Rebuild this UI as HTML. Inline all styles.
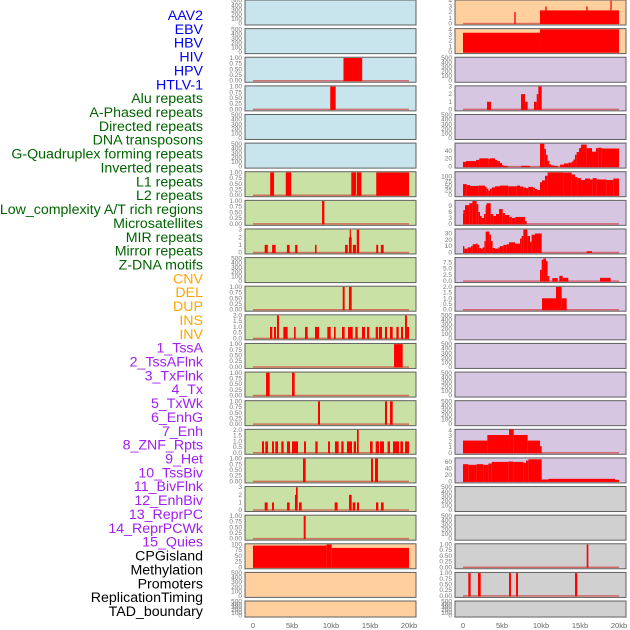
<!DOCTYPE html>
<html><head><meta charset="utf-8"><style>
html,body{margin:0;padding:0;background:#fff;width:630px;height:630px;overflow:hidden}
svg{display:block;font-family:"Liberation Sans",sans-serif}
</style></head><body>
<svg id="chart" width="630" height="630" viewBox="0 0 630 630" xmlns="http://www.w3.org/2000/svg"></svg>
<script>
// ---------- data (kb positions and values) ----------
const labels = ["AAV2","EBV","HBV","HIV","HPV","HTLV-1","Alu repeats","A-Phased repeats","Directed repeats","DNA transposons","G-Quadruplex forming repeats","Inverted repeats","L1 repeats","L2 repeats","Low_complexity A/T rich regions","Microsatellites","MIR repeats","Mirror repeats","Z-DNA motifs","CNV","DEL","DUP","INS","INV","1_TssA","2_TssAFlnk","3_TxFlnk","4_Tx","5_TxWk","6_EnhG","7_Enh","8_ZNF_Rpts","9_Het","10_TssBiv","11_BivFlnk","12_EnhBiv","13_ReprPC","14_ReprPCWk","15_Quies","CPGisland","Methylation","Promoters","ReplicationTiming","TAD_boundary"];
const xTickLabels = ["0","5kb","10kb","15kb","20kb"];
const xTickValues = [0,5,10,15,20];
const emptyTicks = ["0","100","200","300","400","500"];
const unitTicks = ["0.00","0.25","0.50","0.75","1.00"];

// sparse bars: start, end, value
const hbvStart=[11.6], hbvEnd=[14.0], hbvVal=[1];
const hivStart=[9.9], hivEnd=[10.6], hivVal=[1];
const aluStart=[2.2,4.2,12.6,13.3,15.8], aluEnd=[2.7,4.9,13.2,13.9,20.0], aluVal=[1,1,1,1,1];
const aphStart=[8.85], aphEnd=[9.15], aphVal=[1];
const dirStart=[1.5,2.45,4.35,5.4,7.95,11.8,12.3,12.4,12.8,13.3,15.8,16.4], dirEnd=[1.9,2.9,4.7,5.7,8.15,12.15,12.65,12.5,13.2,13.6,16.05,16.75], dirVal=[1,1,1,1,1,1,2,3,1,3,1,1];
const gqStart=[11.5,12.3], gqEnd=[11.75,12.65], gqVal=[1,1];
const invStart=[2.18,2.69,3.08,3.89,5.26,6.67,7.95,9.53,10.38,11.41,12.18,13.12,13.97,14.62,15.73,16.15,16.92,17.56,18.38,18.97,19.49,19.74], invEnd=[2.48,2.95,3.33,4.44,5.47,7.01,8.46,9.96,10.6,11.75,12.78,13.42,14.36,14.91,16.03,16.54,17.18,17.91,18.68,19.23,19.74,20.0], invVal=[1,1,2,1,1,1,1,1,1,1,1,1,1,1,1,1,1,1,1,1,2,1];
const l1Start=[18.08], l1End=[19.19], l1Val=[1];
const l2Start=[1.67,5.0], l2End=[2.14,5.34], l2Val=[1,1];
const lowStart=[8.33,16.92,17.56], lowEnd=[8.59,17.18,17.91], lowVal=[1,1,1];
const micStart=[1.15,1.58,2.44,2.86,3.63,4.36,5.0,6.54,7.99,9.62,10.51,11.32,12.05,12.91,13.33,15.0,15.73,16.28,17.26,17.95,18.89,19.49], micEnd=[1.41,1.92,2.69,3.21,3.93,4.74,5.77,6.79,8.29,9.87,10.98,11.62,12.69,13.21,13.55,15.34,16.15,16.79,17.56,18.72,19.23,20.0], micVal=[1,1,1,1,1,1,1,1,1,1,1,1,1,1,2,1,1,1,1,1,1,1];
const mirStart=[6.41,15.13,15.64], mirEnd=[6.75,15.38,16.03], mirVal=[1,1,1];
const mrrStart=[1.5,2.44,4.36,5.38,5.51,5.9,10.47,12.31,12.78,13.33,15.77,16.41], mrrEnd=[1.88,2.69,4.7,5.51,5.73,6.24,10.85,12.65,13.12,13.59,16.07,16.75], mrrVal=[1,1,1,2,3,1,1,2,1,1,1,1];
const zdnaStart=[6.5], zdnaEnd=[6.75], zdnaVal=[1];
const cnvStart=[0,9.44,10.09], cnvEnd=[9.44,10.09,20.0], cnvVal=[95,100,85];
const insStart=[6.58,9.87,10.56,15.81,18.9], insEnd=[6.75,20.0,10.73,15.98,19.05], insVal=[2,2.3,3,3,4];
const invsStart=[0,9.87], invsEnd=[9.87,20.0], invsVal=[3.4,4];
const tssafStart=[3.08,7.44,7.95,9.1,9.45,9.66], tssafEnd=[3.59,7.95,8.29,9.45,9.66,10.09], tssafVal=[1,2,1,1,2,3];
const hetStart=[10.13,11.92,12.65], hetEnd=[11.92,12.65,13.29], hetVal=[1,2,1];
const promStart=[15.86], promEnd=[16.07], promVal=[1];
const repStart=[0.68,1.92,5.9,6.8,14.36], repEnd=[0.98,2.27,6.15,7.05,14.65], repVal=[1,1,1,1,1];

// step profiles: edges (n+1) and values (n)
const txEdges=[0,0.38,1.67,2.09,3.25,3.46,4.10,4.40,4.74,5.0,5.17,5.73,7.44,8.59,9.87,10.43,10.64,10.85,11.07,11.28,11.71,12.14,12.44,12.95,13.5,13.93,14.15,14.36,14.57,14.87,15.13,15.85,16.54,17.05,17.35,17.78,20.0];
const txVals=[12,14,17,21,19,21,17,14,9,4,2,0,2,0,58,45,30,15,6,3,2,0,5,8,10,13,18,30,37,47,56,47,38,47,48,46];
const txwkEdges=[0,0.47,0.9,1.97,2.82,3.03,3.25,3.46,3.68,4.1,4.74,5.81,6.88,7.31,7.74,8.08,8.38,9.02,9.23,9.53,9.87,10.13,10.51,10.85,12.86,13.93,14.36,14.66,15.13,15.64,16.28,16.62,17.14,18.42,19.27,20.0];
const txwkVals=[60,55,50,52,45,35,25,35,42,48,52,48,52,47,42,38,45,40,33,28,70,80,105,123,122,112,98,92,82,90,85,92,85,82,90];
const enhgEdges=[0,0.04,0.26,0.81,1.2,1.75,1.97,2.18,2.39,2.69,2.91,3.03,3.55,3.89,4.23,4.62,5.09,5.38,5.94,6.24,6.71,7.95,8.16];
const enhgVals=[5,7,9.5,10.5,11.6,10,6,4,3,5,9.5,10.5,5,4,5,7.5,5.5,4.5,3.5,3,3.5,1.5];
const enhEdges=[0,0.17,0.6,1.03,1.24,1.67,1.88,2.09,2.31,2.52,2.74,2.91,3.38,3.59,3.8,4.1,4.53,4.74,5.17,5.6,5.9,6.67,7.31,7.52,7.74,8.25,8.59,8.8,9.23,10.09,15.85,16.54];
const enhVals=[10,6,8,10,13,14,12,7,6,8,18,33,28,18,7,6,8,10,12,13,16,14,22,26,36,26,17,28,30,0,2];
const znfEdges=[9.87,10.09,10.3,10.64,10.85,11.07,11.45,12.14,12.35,12.78,13.5,17.56,18.93];
const znfVals=[4.5,8.5,9,8,2,0,1.2,0,2.1,1.3,0,1.3];
const rpcwkEdges=[0,3.12,5.9,6.5,8.29,9.87,10.09];
const rpcwkVals=[2.2,3.2,4.2,3.2,2.2,1.2];
const quiesEdges=[0,0.68,1.75,2.61,3.25,3.68,5.81,6.45,7.74,8.08,8.38,10.09,10.94,19.49,20.0];
const quiesVals=[53,51,53,51,55,60,61,60,57,64,68,6,8,5];

// ---------- layout ----------
const BG={blue:"#c8e4ec",green:"#c9e1a5",orange:"#ffd09e",purple:"#d6c6e2",gray:"#d0d0d0"};
const LC={blue:"#0000ee",green:"#006400",orange:"#ffa500",purple:"#a020f0",black:"#000"};
function bars(s,e,v){return {s:s,e:e,v:v};}
function steps(ed,va){const s=[],e=[],v=[];for(let i=0;i<va.length;i++){s.push(ed[i]);e.push(ed[i+1]);v.push(va[i]);}return {s:s,e:e,v:v};}
const U={t:unitTicks,tv:[0,0.25,0.5,0.75,1],max:1};
const E={t:emptyTicks,tv:[0,100,200,300,400,500],max:500};
const panels=[
 ["blue",E,null],["blue",E,null],["blue",U,bars(hbvStart,hbvEnd,hbvVal)],["blue",U,bars(hivStart,hivEnd,hivVal)],["blue",E,null],["blue",E,null],
 ["green",U,bars(aluStart,aluEnd,aluVal)],["green",U,bars(aphStart,aphEnd,aphVal)],
 ["green",{t:["0","1","2","3"],tv:[0,1,2,3],max:3},bars(dirStart,dirEnd,dirVal)],["green",E,null],
 ["green",U,bars(gqStart,gqEnd,gqVal)],
 ["green",{t:["0.0","0.5","1.0","1.5","2.0"],tv:[0,0.5,1,1.5,2],max:2},bars(invStart,invEnd,invVal)],
 ["green",U,bars(l1Start,l1End,l1Val)],["green",U,bars(l2Start,l2End,l2Val)],["green",U,bars(lowStart,lowEnd,lowVal)],
 ["green",{t:["0.0","0.5","1.0","1.5","2.0"],tv:[0,0.5,1,1.5,2],max:2},bars(micStart,micEnd,micVal)],
 ["green",U,bars(mirStart,mirEnd,mirVal)],
 ["green",{t:["0","1","2","3"],tv:[0,1,2,3],max:3},bars(mrrStart,mrrEnd,mrrVal)],
 ["green",U,bars(zdnaStart,zdnaEnd,zdnaVal)],
 ["orange",{t:["0","25","50","75","100"],tv:[0,25,50,75,100],max:100},bars(cnvStart,cnvEnd,cnvVal)],["orange",E,null],["orange",E,null],
 ["orange",{t:["0","1","2","3","4"],tv:[0,1,2,3,4],max:4},bars(insStart,insEnd,insVal)],
 ["orange",{t:["0","1","2","3","4"],tv:[0,1,2,3,4],max:4},bars(invsStart,invsEnd,invsVal)],
 ["purple",E,null],
 ["purple",{t:["0","1","2","3"],tv:[0,1,2,3],max:3},bars(tssafStart,tssafEnd,tssafVal)],
 ["purple",E,null],
 ["purple",{t:["0","20","40"],tv:[0,20,40],max:58},steps(txEdges,txVals)],
 ["purple",{t:["0","25","50","75","100"],tv:[0,25,50,75,100],max:123},steps(txwkEdges,txwkVals)],
 ["purple",{t:["0","3","6","9"],tv:[0,3,6,9],max:11.6},steps(enhgEdges,enhgVals)],
 ["purple",{t:["0","10","20","30"],tv:[0,10,20,30],max:36},steps(enhEdges,enhVals)],
 ["purple",{t:["0.0","2.5","5.0","7.5"],tv:[0,2.5,5,7.5],max:9.1},steps(znfEdges,znfVals)],
 ["purple",{t:["0.0","0.5","1.0","1.5","2.0"],tv:[0,0.5,1,1.5,2],max:2},bars(hetStart,hetEnd,hetVal)],
 ["purple",E,null],["purple",E,null],["purple",E,null],["purple",E,null],
 ["purple",{t:["0","1","2","3","4"],tv:[0,1,2,3,4],max:4.1},steps(rpcwkEdges,rpcwkVals)],
 ["purple",{t:["0","20","40","60"],tv:[0,20,40,60],max:70},steps(quiesEdges,quiesVals)],
 ["gray",E,null],["gray",E,null],["gray",U,bars(promStart,promEnd,promVal)],["gray",U,bars(repStart,repEnd,repVal)],["gray",E,null]
];
const labelColor=i=>i<6?LC.blue:i<19?LC.green:i<24?LC.orange:i<39?LC.purple:LC.black;

const svg=document.getElementById('chart');
const NS="http://www.w3.org/2000/svg";
function mk(tag,attrs,parent){const el=document.createElementNS(NS,tag);for(const k in attrs)el.setAttribute(k,attrs[k]);(parent||svg).appendChild(el);return el;}

// labels
labels.forEach((t,i)=>{
  const el=mk('text',{x:203,y:20+i*13.86,'text-anchor':'end','font-size':'14.2',fill:labelColor(i)});
  el.textContent=t;
  
  
});

function xScale(col,kb){return (col===0?253:463)+kb*7.8;}
panels.forEach((p,i)=>{
  const col=i<22?0:1, row=i%22;
  const left=col===0?245:455, w=171;
  const top=row*28.62, h=row===21?16:25;
  const g=mk('g',{});
  
  
  mk('rect',{x:left,y:top,width:w,height:h,fill:BG[p[0]],stroke:'#606060','stroke-width':1},g);
  const sc=p[1], y0=top+h-1.5, y1=top+0.7;
  const yS=v=>y0-(v/sc.max)*(y0-y1);
  sc.t.forEach((lab,k)=>{
    const tt=mk('text',{x:left-3,y:yS(sc.tv[k])+2,'text-anchor':'end','font-size':'6.5',fill:'#777'},g);
    tt.textContent=lab;
    
    
  });
  if(p[2]){
    const d=p[2];
    mk('line',{x1:xScale(col,0),x2:xScale(col,20),y1:y0,y2:y0,stroke:'rgba(210,40,40,0.6)','stroke-width':1.5},g);
    for(let k=0;k<d.v.length;k++){
      if(d.v[k]<=0)continue;
      const x=xScale(col,d.s[k]), x2=xScale(col,d.e[k]);
      const r=mk('rect',{x:x,y:yS(d.v[k]),width:Math.max(1.2,x2-x),height:y0-yS(d.v[k])+0.5,fill:'#ff0000'},g);
      
      
    }
  }
});
// x axis labels
[0,1].forEach(col=>{
  xTickValues.forEach((v,k)=>{
    const t=mk('text',{x:xScale(col,v),y:628,'text-anchor':'middle','font-size':'7.5',fill:'#666'});
    t.textContent=xTickLabels[k];
    
    
  });
});
</script>
</body></html>
